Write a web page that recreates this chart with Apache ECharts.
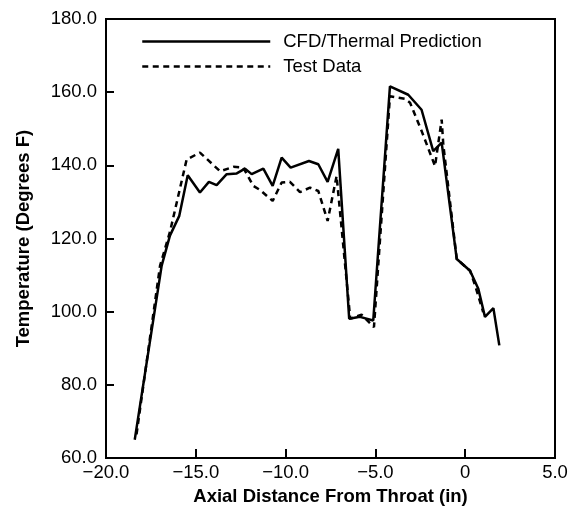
<!DOCTYPE html>
<html>
<head>
<meta charset="utf-8">
<script src="https://cdn.jsdelivr.net/npm/echarts@6/dist/echarts.min.js"></script>
<style>
  html, body { margin: 0; padding: 0; background: #fff; }
  #chart { width: 571px; height: 511px; }
</style>
</head>
<body>
<div id="chart"></div>
<script>
// CFD/Thermal Prediction (solid)
var cfdX = [-18.4, -16.9, -16.44, -15.92, -15.45, -14.77, -14.27, -13.84, -13.28, -12.72, -12.26, -11.89, -11.24, -10.72, -10.22, -9.72, -8.7, -8.18, -7.66, -7.07, -6.46, -5.86, -5.12, -4.19, -3.17, -2.43, -1.78, -1.31, -0.47, 0.27, 0.73, 1.1, 1.57, 1.9]
var cfdY = [65, 112.6, 120.8, 126.2, 137.3, 132.6, 135.5, 134.6, 137.6, 137.8, 139.1, 137.6, 139.1, 134.4, 142.1, 139.4, 141.2, 140.3, 135.5, 144.5, 98.1, 98.6, 97.6, 161.6, 159.3, 155.2, 143.9, 146.2, 114.4, 111.2, 106.3, 98.6, 101.0, 90.8]
// Test Data (dashed)
var testX = [-18.3, -16.99, -16.44, -15.51, -14.77, -13.65, -12.9, -12.36, -11.8, -11.43, -10.72, -10.22, -9.76, -9.2, -8.64, -8.18, -7.66, -7.16, -6.4, -5.77, -5.08, -4.19, -3.35, -3.07, -2.42, -1.68, -1.31, -1.22, -0.47, 0.27, 0.55, 1.0]
var testY = [66.5, 112.6, 121.8, 141.6, 143.5, 138.4, 139.6, 139.4, 134.4, 133.3, 130.3, 135.3, 135.5, 132.7, 133.9, 133.0, 124.8, 137.1, 98.1, 99.2, 95.8, 158.9, 158.2, 157.1, 149.3, 139.8, 152.5, 145.7, 114.4, 111.2, 107.2, 99.9]

var xTicks = [-20, -15, -10, -5, 0, 5]
var yTicks = [60, 80, 100, 120, 140, 160, 180]

function pairs(xs, ys) {
  return xs.map(function (x, i) { return [x, ys[i]] })
}

var font = "'Liberation Sans', Arial, Helvetica, sans-serif"
var fs = 18.5
var chart = echarts.init(document.getElementById('chart'))

chart.setOption({
  animation: false,
  backgroundColor: '#fff',
  textStyle: { fontFamily: font, color: '#000' },
  grid: {
    left: 106, right: 16, top: 19, bottom: 51,
    show: true, borderColor: '#000', borderWidth: 2, backgroundColor: 'transparent'
  },
  legend: {
    orient: 'vertical',
    left: 136, top: 27,
    itemWidth: 128, itemHeight: 14, itemGap: 6,
    data: ['CFD/Thermal Prediction', 'Test Data'],
    itemStyle: { opacity: 0 },
    lineStyle: { width: 2.5 },
    textStyle: { fontSize: fs, color: '#000', fontFamily: font, padding: [0, 0, 0, 8] }
  },
  xAxis: {
    type: 'value',
    min: xTicks[0], max: xTicks[xTicks.length - 1], interval: 5,
    name: 'Axial Distance From Throat (in)',
    nameLocation: 'middle', nameGap: 25,
    nameTextStyle: { fontSize: fs, fontWeight: 'bold', color: '#000', fontFamily: font },
    axisLine: { onZero: false, lineStyle: { color: '#000', width: 2 } },
    axisTick: { inside: true, length: 9, lineStyle: { color: '#000', width: 2 } },
    axisLabel: {
      fontSize: fs, color: '#000', margin: 5,
      formatter: function (v) { return v === 0 ? '0' : v.toFixed(1).replace('-', '\u2212') }
    },
    splitLine: { show: false }
  },
  yAxis: {
    type: 'value',
    min: yTicks[0], max: yTicks[yTicks.length - 1], interval: 20,
    name: 'Temperature (Degrees F)',
    nameLocation: 'middle', nameGap: 73,
    nameTextStyle: { fontSize: fs, fontWeight: 'bold', color: '#000', fontFamily: font },
    axisLine: { onZero: false, lineStyle: { color: '#000', width: 2 } },
    axisTick: { inside: true, length: 8, lineStyle: { color: '#000', width: 2 } },
    axisLabel: {
      fontSize: fs, color: '#000', margin: 9,
      formatter: function (v) { return v.toFixed(1) }
    },
    splitLine: { show: false }
  },
  series: [
    {
      name: 'CFD/Thermal Prediction',
      type: 'line',
      data: pairs(cfdX, cfdY),
      showSymbol: false, symbol: 'none',
      lineStyle: { color: '#000', width: 2.5, type: 'solid' },
      itemStyle: { color: '#000' }
    },
    {
      name: 'Test Data',
      type: 'line',
      data: pairs(testX, testY),
      showSymbol: false, symbol: 'none',
      lineStyle: { color: '#000', width: 2.5, type: [6, 4.5] },
      itemStyle: { color: '#000' }
    }
  ]
})
</script>
</body>
</html>
